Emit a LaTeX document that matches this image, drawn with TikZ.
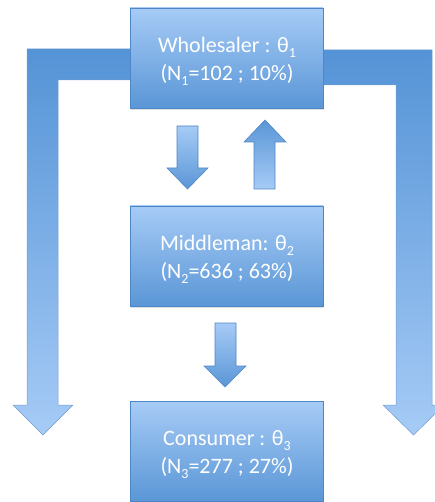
\documentclass[tikz,border=0pt]{standalone}
\usepackage{fontspec}
\setmainfont{Carlito}
\usetikzlibrary{shadows}
\definecolor{boxtop}{HTML}{A6CBF6}
\definecolor{boxbot}{HTML}{5A96D6}
\definecolor{boxline}{HTML}{4F86C6}
\definecolor{ltop}{HTML}{5493D6}
\definecolor{lbot}{HTML}{A6CBF6}
\newcommand\sbx[1]{\raisebox{-5pt}{\fontsize{14}{14}\selectfont #1}}
\begin{document}
\begin{tikzpicture}[x=1pt,y=-1pt,
  box/.style={draw=boxline, line width=0.6pt, top color=boxtop, bottom color=boxbot,
    minimum width=193pt, minimum height=100pt, inner sep=0pt, text=white, align=center,
    drop shadow={opacity=0.25, shadow xshift=1pt, shadow yshift=-2pt}},
  lbl/.style={text=white, align=center, font=\fontsize{22}{28}\selectfont},
  bigarrow/.style={draw=boxline!80, line width=0.5pt, top color=ltop, bottom color=lbot},
  downarrow/.style={draw=boxline, line width=0.6pt, top color=boxtop, bottom color=boxbot},
  uparrow/.style={draw=boxline, line width=0.6pt, top color=boxbot, bottom color=boxtop}]
\useasboundingbox (0,0) rectangle (435,502);
\clip (0,0) rectangle (435,502);
% big L arrows
\path[bigarrow] (27,49) -- (200,49) -- (200,80) -- (58,80) -- (58,405) -- (73,405)
  -- (43,435) -- (13,405) -- (27,405) -- cycle;
\path[bigarrow] (250,50) -- (432,50) -- (432,405) -- (444,405) -- (413.5,435)
  -- (383,405) -- (396,405) -- (396,85) -- (250,85) -- cycle;
% boxes
\node[box] (W) at (226.5,58) {};
\node[lbl] (Wt) at (227,61) {Wholesaler : θ\sbx{1}\\(N\sbx{1}=102 ; 10\%)};
\node[box] (M) at (226.5,256) {};
\node[lbl] (Mt) at (227,259) {Middleman: θ\sbx{2}\\(N\sbx{2}=636 ; 63\%)};
\node[box] (C) at (226.5,451.5) {};
\node[lbl] (Ct) at (227,454.5) {Consumer : θ\sbx{3}\\(N\sbx{3}=277 ; 27\%)};
% small arrows
\path[downarrow] (177,126) -- (198,126) -- (198,168) -- (208,168) -- (187.5,189)
  -- (167,168) -- (177,168) -- cycle;
\path[uparrow] (254,189) -- (275,189) -- (275,142) -- (286,142) -- (265,120)
  -- (244,142) -- (254,142) -- cycle;
\path[downarrow] (215,323) -- (236,323) -- (236,366) -- (246,366) -- (225,387)
  -- (204,366) -- (215,366) -- cycle;
\end{tikzpicture}
\end{document}
